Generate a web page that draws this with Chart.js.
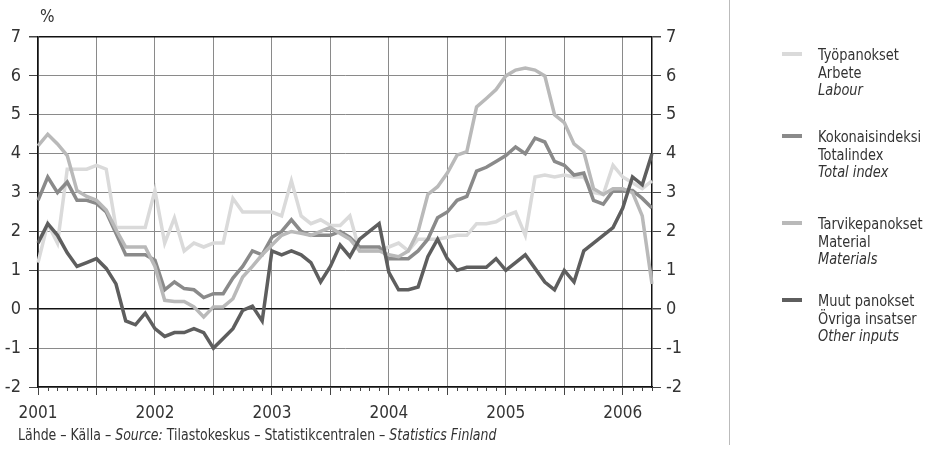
<!DOCTYPE html>
<html>
<head>
<meta charset="utf-8">
<script src="https://cdn.jsdelivr.net/npm/chart.js@4"></script>
<style>
  body { margin: 0; background: #fff; }
  #wrap { position: relative; width: 931px; height: 452px; font-family: 'Liberation Sans Narrow', 'DejaVu Sans Condensed', sans-serif; color: #333; }
  #wrap canvas { position: absolute; left: 0; top: 0; }
  .unit { position: absolute; left: 40px; top: 6px; font-size: 17px; }
  .source { position: absolute; left: 18px; top: 426px; font-size: 15px; white-space: nowrap; transform: scaleX(0.93); transform-origin: left top; }
  .divider { position: absolute; left: 729px; top: 0; width: 1px; height: 445px; background: #bbb; }
  .item { position: absolute; left: 818px; font-size: 16px; line-height: 17.5px; white-space: nowrap; transform: scaleX(0.9); transform-origin: left top; }
  .swatch { position: absolute; left: 782px; width: 20px; height: 4px; }
</style>
</head>
<body>
<div id="wrap">
  <canvas id="myLineChart" width="931" height="452"></canvas>
  <div class="unit">%</div>
  <div class="divider"></div>
  <div class="source">Lähde – Källa – <i>Source:</i> Tilastokeskus – Statistikcentralen – <i>Statistics Finland</i></div>
</div>
<script>
// months Jan 2001 .. Apr 2006
var years = [2001, 2002, 2003, 2004, 2005, 2006];
var months = [];
years.forEach(function (y) {
  for (var m = 1; m <= 12; m++) {
    if (y === 2006 && m > 4) break;
    months.push(y + '-' + (m < 10 ? '0' + m : m));
  }
});

var namesFi = ['Työpanokset', 'Kokonaisindeksi', 'Tarvikepanokset', 'Muut panokset'];
var namesSv = ['Arbete', 'Totalindex', 'Material', 'Övriga insatser'];
var namesEn = ['Labour', 'Total index', 'Materials', 'Other inputs'];
var colors = ['#dadada', '#8a8a8a', '#b9b9b9', '#5e5e5e'];

var labour = [
  1.2, 2.2, 1.7, 3.6, 3.6, 3.6, 3.7, 3.6, 2.1, 2.1, 2.1, 2.1,
  3.05, 1.7, 2.35, 1.5, 1.7, 1.6, 1.7, 1.7, 2.85, 2.5, 2.5, 2.5,
  2.5, 2.4, 3.3, 2.4, 2.2, 2.3, 2.15, 2.15, 2.4, 1.5, 1.5, 1.5,
  1.6, 1.7, 1.5, 1.8, 1.8, 1.8, 1.85, 1.9, 1.9, 2.2, 2.2, 2.25,
  2.4, 2.5, 1.9, 3.4, 3.45, 3.4, 3.45, 3.4, 3.4, 3.0, 2.95, 3.7,
  3.4, 3.25, 3.1, 3.3
];
var total = [
  2.8, 3.4, 3.0, 3.27, 2.8, 2.8, 2.72, 2.5, 1.95, 1.4, 1.4, 1.4,
  1.26, 0.5, 0.7, 0.53, 0.5, 0.3, 0.4, 0.4, 0.8, 1.1, 1.5, 1.4,
  1.85, 2.0, 2.3, 2.0, 1.9, 1.9, 1.9, 2.0, 1.85, 1.6, 1.6, 1.6,
  1.3, 1.3, 1.3, 1.5, 1.8, 2.35, 2.5, 2.8, 2.9, 3.55, 3.65, 3.8,
  3.95, 4.17, 4.0, 4.4, 4.3, 3.8, 3.7, 3.45, 3.5, 2.8, 2.7, 3.05,
  3.05, 3.05, 2.85, 2.6
];
var materials = [
  4.2, 4.5, 4.25, 3.95, 3.05, 2.9, 2.8, 2.55, 2.05, 1.6, 1.6, 1.6,
  1.1, 0.23, 0.2, 0.2, 0.06, -0.2, 0.06, 0.06, 0.27, 0.83, 1.1, 1.4,
  1.65, 1.9, 2.0, 1.95, 1.9, 2.0, 2.1, 1.95, 1.8, 1.5, 1.5, 1.5,
  1.4, 1.35, 1.5, 2.0, 2.95, 3.15, 3.5, 3.96, 4.05, 5.2, 5.42, 5.65,
  6.0, 6.15, 6.2, 6.15, 6.0, 5.0, 4.8, 4.25, 4.05, 3.1, 2.95, 3.1,
  3.1, 3.0, 2.4, 0.65
];
var other = [
  1.7, 2.2, 1.9, 1.45, 1.1, 1.2, 1.3, 1.05, 0.65, -0.3, -0.4, -0.1,
  -0.5, -0.7, -0.6, -0.6, -0.5, -0.6, -1.0, -0.75, -0.5, -0.03, 0.08, -0.3,
  1.5, 1.4, 1.5, 1.4, 1.2, 0.7, 1.1, 1.65, 1.35, 1.8, 2.0, 2.2,
  0.95, 0.5, 0.5, 0.57, 1.35, 1.8, 1.3, 1.0, 1.08, 1.08, 1.08, 1.3,
  1.0, 1.2, 1.4, 1.05, 0.7, 0.5, 1.0, 0.7, 1.5, 1.7, 1.9, 2.1,
  2.6, 3.4, 3.2, 4.0
];
var series = [labour, total, materials, other];
var yTicks = [-2, -1, 0, 1, 2, 3, 4, 5, 6, 7];

// legend as html
var wrap = document.getElementById('wrap');
var itemTops = [46, 128, 215, 292];
namesFi.forEach(function (n, i) {
  var sw = document.createElement('div');
  sw.className = 'swatch';
  sw.style.top = (itemTops[i] + 6) + 'px';
  sw.style.background = colors[i];
  wrap.appendChild(sw);
  var d = document.createElement('div');
  d.className = 'item';
  d.style.top = itemTops[i] + 'px';
  d.innerHTML = n + '<br>' + namesSv[i] + '<br><i>' + namesEn[i] + '</i>';
  wrap.appendChild(d);
});

var FONT = "'Liberation Sans Narrow', 'DejaVu Sans Condensed', sans-serif";

// small monthly ticks under the x axis
var minorTicks = {
  id: 'minorTicks',
  afterDraw: function (chart) {
    var x = chart.scales.x, c = chart.ctx, b = chart.chartArea.bottom;
    c.save();
    c.strokeStyle = '#444';
    c.lineWidth = 1;
    for (var i = 0; i < months.length; i++) {
      if (i % 6 === 0) continue;
      var px = Math.round(x.getPixelForValue(i)) + 0.5;
      c.beginPath();
      c.moveTo(px, b);
      c.lineTo(px, b + 4);
      c.stroke();
    }
    c.restore();
  }
};

var datasets = series.map(function (s, i) {
  return {
    label: namesFi[i],
    data: s,
    borderColor: colors[i],
    backgroundColor: colors[i],
    borderWidth: 3.5,
    pointRadius: 0,
    tension: 0,
    order: 4 - i
  };
});

var yCommon = function (pos) {
  return {
    type: 'linear',
    position: pos,
    min: -2,
    max: 7,
    afterBuildTicks: function (s) { s.ticks = yTicks.map(function (v) { return { value: v }; }); },
    ticks: { color: '#333', font: { family: FONT, size: 18 }, padding: pos === 'left' ? 8 : 5 },
    border: { color: '#111', width: 1.5 },
    grid: {
      drawOnChartArea: pos === 'left',
      tickLength: 9,
      color: function (ctx) {
        var v = ctx.tick ? ctx.tick.value : null;
        return (v === 0 || v === 7) ? '#111' : '#8a8a8a';
      },
      tickColor: '#444',
      lineWidth: function (ctx) {
        var v = ctx.tick ? ctx.tick.value : null;
        return (v === 0 || v === 7) ? 1.5 : 1;
      }
    }
  };
};

var ctx = document.getElementById('myLineChart');
var yL = yCommon('left');
yL.afterFit = function (s) { s.width = 38; };
var yR = yCommon('right');
yR.afterFit = function (s) { s.width = 279; };

var myChart = new Chart(ctx, {
  type: 'line',
  data: { labels: months, datasets: datasets },
  plugins: [minorTicks],
  options: {
    responsive: false,
    animation: false,
    layout: { padding: { top: 37, left: 0, right: 0, bottom: 0 } },
    plugins: { legend: { display: false }, tooltip: { enabled: false } },
    scales: {
      x: {
        type: 'category',
        offset: false,
        afterFit: function (s) { s.height = 65; },
        ticks: {
          autoSkip: false,
          maxRotation: 0,
          color: '#333',
          padding: 8,
          font: { family: FONT, size: 17 },
          callback: function (v, i) {
            var l = months[i];
            return l.slice(5) === '01' ? l.slice(0, 4) : '';
          }
        },
        border: { color: '#111', width: 1.5 },
        grid: {
          tickLength: 8,
          color: function (c) { return c.index % 6 === 0 ? '#8a8a8a' : 'rgba(0,0,0,0)'; },
          tickColor: function (c) { return c.index % 6 === 0 ? '#444' : 'rgba(0,0,0,0)'; }
        }
      },
      y: yL,
      y2: yR
    }
  }
});
</script>
</body>
</html>
